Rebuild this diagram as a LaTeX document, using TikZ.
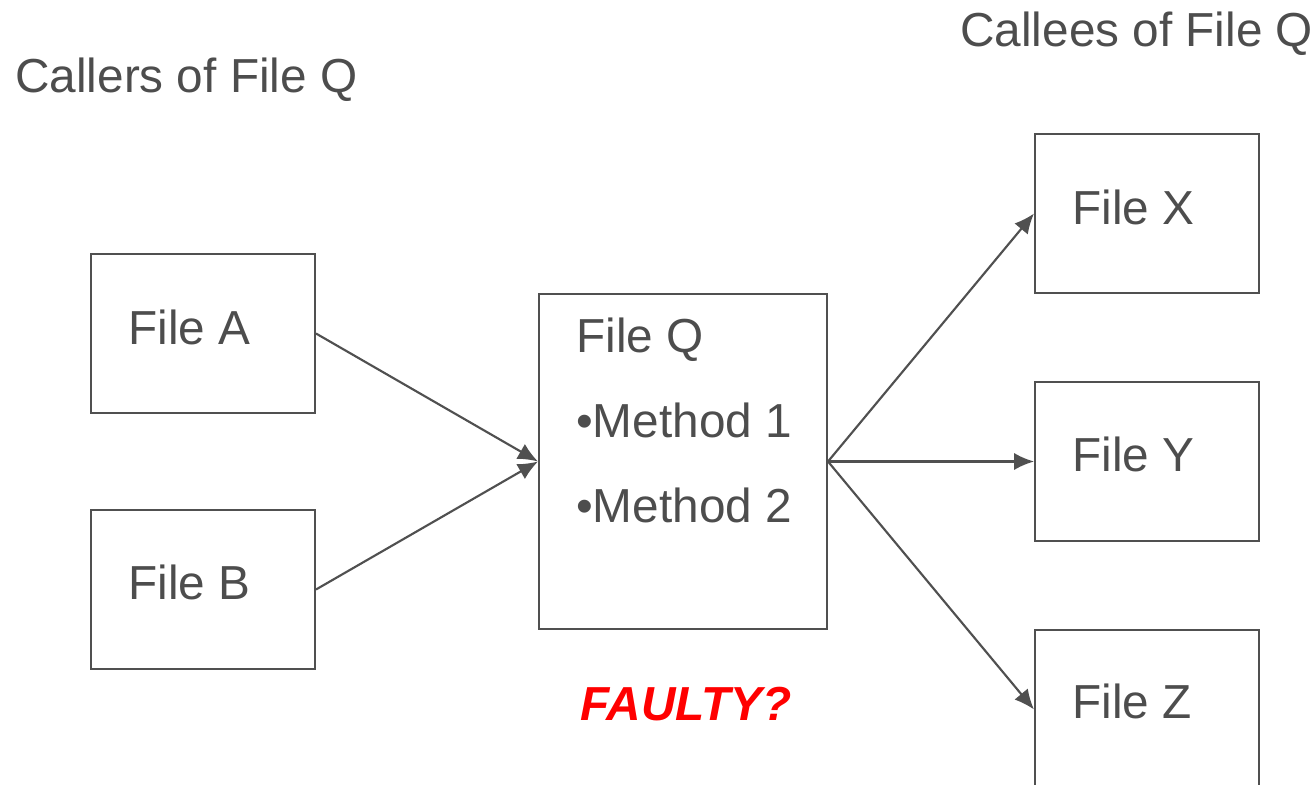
\documentclass[tikz,border=0pt]{standalone}
\usepackage{fontspec}
\setmainfont{Liberation Sans}
\usetikzlibrary{arrows.meta}
\definecolor{ink}{RGB}{80,80,80}
\definecolor{txt}{RGB}{77,77,77}
\definecolor{fault}{RGB}{255,0,0}
\begin{document}
\begin{tikzpicture}[x=0.75pt,y=-0.75pt,
  filebox/.style={draw=ink,line width=1.5pt,inner sep=0pt,minimum width=168pt,minimum height=119.25pt},
  qbox/.style={draw=ink,line width=1.5pt,inner sep=0pt,minimum width=216pt,minimum height=251.25pt},
  lbl/.style={anchor=base west,inner sep=0pt,text=txt,font=\fontsize{35.8}{43}\selectfont},
  conn/.style={draw=ink,line width=1.6pt,-{Latex[length=15pt,width=13pt]}}]
\useasboundingbox (0,0) rectangle (1315,785);
\node[filebox] (A) at (203,333.5) {};
\node[filebox] (B) at (203,589.5) {};
\node[qbox] (Q) at (683,461.5) {};
\node[filebox] (X) at (1147,213.5) {};
\node[filebox] (Y) at (1147,461.5) {};
\node[filebox] (Z) at (1147,709.5) {};
\node[lbl] (capL) at (15,92) {Callers of File Q};
\node[lbl] (capR) at (960,46) {Callees of File Q};
\node[lbl] (tA) at (128,344) {File A};
\node[lbl] (tB) at (128,599) {File B};
\node[lbl] (tQ) at (576,352) {File Q};
\node[lbl] (tM1) at (576,437) {•Method 1};
\node[lbl] (tM2) at (576,522) {•Method 2};
\node[lbl] (tX) at (1072,224) {File X};
\node[lbl] (tY) at (1072,471) {File Y};
\node[lbl] (tZ) at (1072,718) {File Z};
\node[anchor=base,inner sep=0pt,text=fault,font=\fontsize{35.8}{43}\selectfont\bfseries\itshape] (fa) at (686,720) {FAULTY?};
\draw[conn] (A.east) -- (Q.west);
\draw[conn] (B.east) -- (Q.west);
\draw[conn] (Q.east) -- (X.west);
\draw[conn] (Q.east) -- (Y.west);
\draw[conn] (Q.east) -- (Z.west);
\end{tikzpicture}
\end{document}
